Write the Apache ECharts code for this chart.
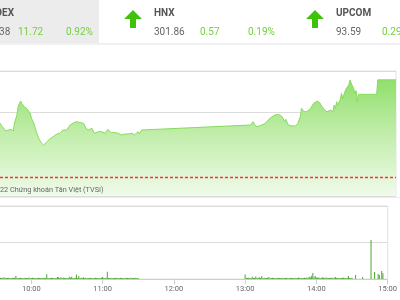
<!DOCTYPE html>
<html><head><meta charset="utf-8">
<script src="https://cdn.jsdelivr.net/npm/echarts@6/dist/echarts.min.js"></script>
<style>html,body{margin:0;padding:0;background:#fff;overflow:hidden}#c{position:absolute;left:-40px;top:0;width:440px;height:300px}</style>
</head><body><div id="c"></div>
<script>
// ---- header data ----
const indexNames = ['VNINDEX', 'HNX', 'UPCOM'];
const indexValues = ['1,285.38', '301.86', '93.59'];
const indexChanges = ['11.72', '0.57', '0.29'];
const indexPercents = ['0.92%', '0.19%', ''];

// ---- intraday VN-Index ----
const refPrice = 1272.22;
const priceTimes = [
 '09:32','09:33','09:35','09:36','09:38','09:39','09:40','09:42','09:43','09:44',
 '09:45','09:47','09:48','09:49','09:50','09:51','09:52','09:53','09:55','09:56',
 '09:58','09:59','10:01','10:03','10:05','10:07','10:09','10:10','10:12','10:14',
 '10:15','10:17','10:20','10:22','10:23','10:25','10:28','10:31','10:34','10:36',
 '10:38','10:39','10:42','10:44','10:46','10:49','10:51','10:54','10:57','11:00',
 '11:02','11:05','11:08','11:11','11:13','11:16','11:19','11:22','11:24','11:27',
 '11:28','11:30',
 '13:00','13:02','13:04','13:06','13:09','13:12','13:15','13:17','13:20','13:23',
 '13:26','13:28','13:29','13:31','13:34','13:37','13:39','13:41','13:42','13:44',
 '13:46','13:49','13:52','13:55','13:57','13:59','14:01','14:03','14:04','14:06',
 '14:08','14:09','14:10','14:11','14:12','14:13','14:14','14:15','14:16','14:17',
 '14:18','14:19','14:20','14:21','14:22','14:23','14:24','14:25','14:26','14:27',
 '14:28','14:29','14:44','14:45','15:00'
];
const priceValues = [
 1278.95,1278.92,1278.30,1278.16,1277.80,1277.72,1277.92,1278.00,1278.12,1277.80,
 1278.76,1279.72,1280.72,1281.10,1281.40,1281.12,1281.30,1280.72,1280.52,1280.60,
 1279.92,1279.32,1278.72,1277.72,1276.92,1276.40,1276.12,1276.30,1276.52,1276.84,
 1276.75,1277.12,1277.44,1277.50,1277.60,1277.92,1277.92,1278.52,1278.80,1278.92,
 1278.85,1279.00,1278.72,1278.12,1277.92,1278.12,1277.52,1277.72,1277.72,1277.52,
 1278.00,1277.60,1277.60,1277.52,1277.32,1277.44,1277.44,1277.52,1277.32,1277.72,
 1277.44,1277.92,
 1278.52,1278.92,1278.40,1278.32,1278.52,1278.72,1279.20,1279.44,1279.72,1279.80,
 1279.52,1278.92,1279.20,1278.52,1278.40,1278.40,1278.72,1279.52,1280.52,1280.12,
 1280.12,1280.40,1281.12,1281.40,1281.20,1280.72,1280.32,1280.10,1280.04,1280.32,
 1280.12,1280.92,1280.50,1281.32,1280.90,1281.12,1281.60,1282.32,1281.70,1281.92,
 1282.60,1282.92,1282.70,1283.32,1283.92,1284.12,1283.20,1282.92,1282.32,1282.64,
 1281.32,1282.20,1282.20,1283.94,1283.94
];

// ---- volume (thousand shares), one bar per minute ----
const morningVolStart = '09:33';
const morningVolumes = [
 40,35,30,35,45,30,35,30,35,30,
 30,35,30,35,80,35,30,30,35,30,
 30,30,35,30,30,40,30,30,35,30,
 30,30,30,35,30,30,30,35,30,30,
 130,30,30,30,35,30,30,30,30,55,
 50,30,50,30,35,30,30,30,30,65,
 35,60,30,30,35,120,30,80,30,35,
 30,50,30,35,30,30,30,35,30,30,
 30,35,30,30,30,30,35,55,30,30,
 35,200,30,30,35,30,30,30,30,35,
 30,30,35,30,30,30,30,35,30,30,
 30,35,30,30,30,35,30,30
];
const afternoonVolStart = '13:00';
const afternoonVolumes = [
 120,35,30,35,30,30,60,30,35,70,
 30,35,50,30,80,30,35,30,30,35,
 55,30,30,35,30,30,30,35,30,30,
 30,35,30,30,30,35,30,30,35,30,
 30,30,35,30,30,40,30,35,30,30,
 35,30,40,35,60,40,90,165,45,80,
 40,35,40,35,30,45,35,30,40,35,
 30,35,30,40,30,35,55,30,35,30,
 30,35,30,40,30,30,35,80,30,30,35
];
const lateVolTimes = ['14:33','14:39','14:46','14:49','14:52','14:53','14:55','14:56'];
const lateVolumes = [110,55,1070,190,140,110,220,160];

const axisTickLabels = ['10:00','11:00','12:00','13:00','14:00','15:00'];
const creditText = '© 2022 Chứng khoán Tân Việt (TVSI)';

// ---- helpers ----
const toMin = s => { const [h, m] = s.split(':').map(Number); return (h - 9) * 60 + m; };
const priceData = priceTimes.map((t, i) => [toMin(t), priceValues[i]]);
const volData = [];
morningVolumes.forEach((v, i) => volData.push([toMin(morningVolStart) + i, v]));
afternoonVolumes.forEach((v, i) => volData.push([toMin(afternoonVolStart) + i, v]));
lateVolTimes.forEach((t, i) => volData.push([toMin(t), lateVolumes[i]]));
const X_MIN = 0, X_MAX = 360;
const refData = [[X_MIN, refPrice], [X_MAX, refPrice]];

const OFF = 40; // canvas is shifted 40px left of the window
const FONT = 'Roboto, "Liberation Sans", sans-serif';
const GREEN_TXT = '#72cf40';
const colX = [-28, 154, 336];

const graphics = [
  { type: 'rect', shape: { x: 0, y: 0, width: 99 + OFF, height: 43 }, style: { fill: '#ececec' }, z: 0 },
  { type: 'rect', shape: { x: 0, y: 43, width: 440, height: 2 }, style: { fill: '#f1f1f1' }, z: 0 },
  { type: 'rect', shape: { x: 0, y: 197, width: 440, height: 1 }, style: { fill: '#ebebeb' }, z: 0 }
];
indexNames.forEach((name, i) => {
  const x = colX[i] + OFF;
  const cx = x - 21;
  graphics.push({ type: 'polygon', shape: { points: [[cx, 10], [cx + 9, 19], [cx + 3, 19], [cx + 3, 28], [cx - 3, 28], [cx - 3, 19], [cx - 9, 19]] }, style: { fill: '#3fc20a' }, z: 5 });
  graphics.push({ type: 'text', x: x, y: 13, style: { text: name, font: 'bold 10px ' + FONT, fill: '#555', textVerticalAlign: 'middle' }, z: 5 });
  graphics.push({ type: 'text', x: x, y: 32, style: { text: indexValues[i], font: '10px ' + FONT, fill: '#666', textVerticalAlign: 'middle' }, z: 5 });
  graphics.push({ type: 'text', x: x + 46, y: 32, style: { text: indexChanges[i], font: '10px ' + FONT, fill: GREEN_TXT, textVerticalAlign: 'middle' }, z: 5 });
  if (indexPercents[i]) graphics.push({ type: 'text', x: x + 94, y: 32, style: { text: indexPercents[i], font: '10px ' + FONT, fill: GREEN_TXT, textVerticalAlign: 'middle' }, z: 5 });
});
graphics.push({ type: 'text', x: 103.5 + OFF, y: 190, style: { text: creditText, font: '7.3px ' + FONT, fill: '#666', textAlign: 'right', textVerticalAlign: 'middle' }, z: 10 });

const chart = echarts.init(document.getElementById('c'), null, { renderer: 'canvas' });
chart.setOption({
  animation: false,
  backgroundColor: '#fff',
  grid: [
    { left: 0, right: 4, top: 71, height: 125, show: true, borderColor: '#e2e2e2', borderWidth: 1, backgroundColor: 'transparent' },
    { left: 0, right: 4, top: 206, height: 73, show: true, borderColor: '#e2e2e2', borderWidth: 1, backgroundColor: 'transparent' }
  ],
  xAxis: [
    { type: 'value', gridIndex: 0, min: X_MIN, max: X_MAX, interval: 60, axisLine: { show: false }, axisTick: { show: false }, axisLabel: { show: false }, splitLine: { show: false } },
    { type: 'value', gridIndex: 1, min: X_MIN, max: X_MAX, interval: 60,
      axisLine: { show: true, onZero: false, lineStyle: { color: '#c9ced6' } },
      axisTick: { show: true, length: 5, lineStyle: { color: '#c5d2e4' } },
      axisLabel: { color: '#666', fontSize: 7.5, fontFamily: 'Roboto', margin: 6, showMinLabel: false, showMaxLabel: true,
        formatter: v => axisTickLabels.find(l => toMin(l) === v) || '' },
      splitLine: { show: false } }
  ],
  yAxis: [
    { type: 'value', gridIndex: 0, min: 1270, max: 1285, interval: 5, axisLabel: { show: false }, axisLine: { show: false }, axisTick: { show: false }, splitLine: { lineStyle: { color: '#dcdcdc' } } },
    { type: 'value', gridIndex: 1, min: 0, max: 2000, interval: 1000, axisLabel: { show: false }, axisLine: { show: false }, axisTick: { show: false }, splitLine: { lineStyle: { color: '#dcdcdc' } } }
  ],
  series: [
    { type: 'line', xAxisIndex: 0, yAxisIndex: 0, data: priceData, showSymbol: false, symbol: 'none',
      lineStyle: { color: '#86dc5c', width: 1 },
      areaStyle: { origin: 'start', opacity: 1, color: new echarts.graphic.LinearGradient(0, 0, 0, 1, [
        { offset: 0, color: '#8fdf6a' }, { offset: 0.45, color: '#bfeda8' }, { offset: 1, color: '#f0fbea' }]) },
      z: 3 },
    { type: 'line', xAxisIndex: 0, yAxisIndex: 0, data: refData, showSymbol: false, symbol: 'none', silent: true,
      itemStyle: { color: '#ff3030' },
      lineStyle: { color: '#ff3030', type: [3, 2], width: 1.5 }, z: 6 },
    { type: 'bar', xAxisIndex: 1, yAxisIndex: 1, data: volData, barWidth: 1, itemStyle: { color: '#4da632' }, z: 3 }
  ],
  graphic: graphics
});
</script></body></html>
